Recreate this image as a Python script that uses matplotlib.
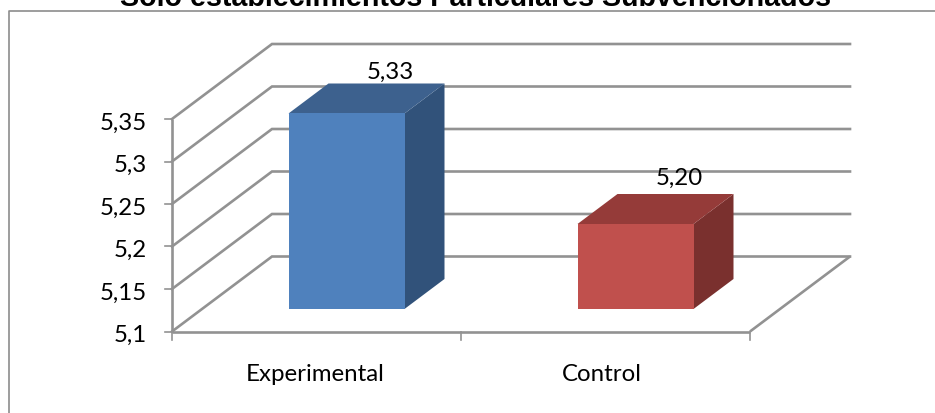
import matplotlib
matplotlib.use("Agg")
import matplotlib.pyplot as plt

title = "Solo establecimientos Particulares Subvencionados"
categories = ["Experimental", "Control"]
values = [5.33, 5.20]
value_labels = ["5,33", "5,20"]
y_ticks = [5.10, 5.15, 5.20, 5.25, 5.30, 5.35]
y_tick_labels = ["5,1", "5,15", "5,2", "5,25", "5,3", "5,35"]
front_colors = ["#4F81BD", "#C0504D"]
top_colors = ["#3D618E", "#953B39"]
side_colors = ["#31527A", "#7A302E"]
label_lift = [11, 16]

W, H = 935, 413
PX_X = 289.0        # pixels per category
PX_Y = 850.0        # pixels per value unit
X0_PX, Y0_PX = 172.0, 331.5
DEPTH_X = 100 / PX_X
DEPTH_Y = 75 / PX_Y
BASE = y_ticks[0]
GRID = "#929292"
FS = 17.3

plt.rcParams["font.family"] = ["Lato", "DejaVu Sans"]
fig = plt.figure(figsize=(W / 100, H / 100), dpi=100)
ax = fig.add_axes([0, 0, 1, 1])
ax.set_xlim(-X0_PX / PX_X, (W - X0_PX) / PX_X)
ax.set_ylim(BASE - (H - Y0_PX) / PX_Y, BASE + Y0_PX / PX_Y)
ax.axis("off")


def proj(x, y, d):
    return x + d * DEPTH_X, y + d * DEPTH_Y


def line(p, q, lw=2.0, z=1):
    ax.plot([p[0], q[0]], [p[1], q[1]], color=GRID, lw=lw, zorder=z,
            solid_capstyle="butt", solid_joinstyle="miter")


n = len(categories)
# frame of the chart
fx0 = ax.get_xlim()[0] + 8.5 / PX_X
fy1 = ax.get_ylim()[1] - 10.5 / PX_Y
ax.plot([fx0, fx0, ax.get_xlim()[1]], [ax.get_ylim()[0], fy1, fy1],
        color="#8C8C8C", lw=1.2, zorder=0)

# walls and gridlines
for t, lab in zip(y_ticks, y_tick_labels):
    back_l = proj(0, t, 1)
    back_r = proj(n, t, 1)
    ax.plot([0, back_l[0], back_r[0]], [t, back_l[1], back_r[1]],
            color=GRID, lw=1.9, zorder=1, solid_joinstyle="miter")
    ax.plot([-7 / PX_X, 0], [t, t], color=GRID, lw=1.2, zorder=1)
    ax.annotate(lab, (0, t), xytext=(-25, -4), textcoords="offset pixels",
                ha="right", va="center", fontsize=FS, color="black")

# floor and front axes
line((0, y_ticks[0]), (0, y_ticks[-1]), lw=1.9)
line((0, BASE), (n, BASE), lw=1.9)
line((n, BASE), proj(n, BASE, 1), lw=1.9)
for i in range(n + 1):
    ax.plot([i, i], [BASE, BASE - 8 / PX_Y], color=GRID, lw=1.2, zorder=1)

# bars
BW = 116 / PX_X
D0, D1 = 0.3, 0.7
for i, (v, vl, fc, tc, sc) in enumerate(zip(values, value_labels, front_colors, top_colors, side_colors)):
    l = i + 0.5 - BW / 2
    r = i + 0.5 + BW / 2
    corners = lambda x, y: (proj(x, y, D0), proj(x, y, D1))
    (a, b), (c, d) = corners(r, BASE), corners(r, v)
    ax.fill(*zip(a, b, d, c), color=sc, lw=0, zorder=3)
    (e, f), (g, h) = corners(l, v), corners(r, v)
    ax.fill(*zip(e, f, h, g), color=tc, lw=0, zorder=3)
    p, q = proj(l, BASE, D0), proj(r, v, D0)
    ax.fill([p[0], q[0], q[0], p[0]], [p[1], p[1], q[1], q[1]], color=fc, lw=0, zorder=4)
    lab = proj(i + 0.5, v, D1)
    ax.annotate(vl, lab, xytext=(4, label_lift[i]), textcoords="offset pixels",
                ha="center", va="center", fontsize=FS, color="black", zorder=5)
    ax.annotate(categories[i], (i + 0.5, BASE), xytext=(-1 if i == 0 else -4, -43),
                textcoords="offset pixels", ha="center", va="center",
                fontsize=FS, color="black")

fig.text(475 / W, 1 - 5.5 / H, title, ha="center", va="baseline", fontsize=20.6,
         fontweight="bold", family=["Liberation Sans"], color="black")
fig.savefig("out.png", dpi=100, facecolor="white")
